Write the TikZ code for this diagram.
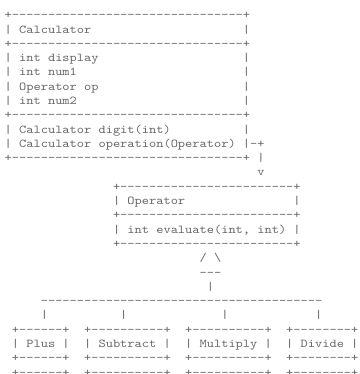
\documentclass[tikz,border=0pt]{standalone}
\usepackage{fontspec}
\usepackage{tikz}
\newfontfamily\asciifont{lmmono10-regular}[Extension=.otf, FakeStretch=1.146]
\newcommand{\asciitext}{\asciifont\fontsize{9pt}{10.7pt}\selectfont}
\newlength{\charw}
\AtBeginDocument{\settowidth{\charw}{\asciitext +}}

% box pieces, #1 = full width in characters
\newcommand{\brule}[1]{+\foreach\i in {3,...,#1}{-}+}
\newcommand{\brow}[2]{\makebox[\dimexpr\charw*\numexpr#1-1\relax\relax][l]{|\makebox[\charw]{}#2}|}
\newcommand{\dashrun}[1]{\foreach\i in {1,...,#1}{-}}

\begin{document}
\begin{tikzpicture}[
  x=\charw, y=-10.725pt,
  ascii/.style = {font=\asciitext, text=black!60, inner sep=0pt, anchor=base west},
]
\path[fill=white, use as bounding box] (-0.62,-1.31) rectangle (49.24,24.85);

%% Calculator
\foreach \r in {0,2,7,10}
  \node[ascii] (calc-rule\r) at (0,\r) {\brule{34}};
\foreach \r/\t in {1/Calculator, 3/int display, 4/int num1, 5/Operator op,
                   6/int num2, 8/Calculator digit(int),
                   9/Calculator operation(Operator)}
  \node[ascii] (calc-row\r) at (0,\r) {\brow{34}{\t}};

%% link down to Operator
\node[ascii] (link)      at (34,9)  {-+};
\node[ascii] (link-down) at (35,10) {|};
\node[ascii] (link-tip)  at (35,11) {v};

%% Operator
\foreach \r in {12,14,16}
  \node[ascii] (op-rule\r) at (15,\r) {\brule{26}};
\node[ascii] (op-name) at (15,13) {\brow{26}{Operator}};
\node[ascii] (op-eval) at (15,15) {\brow{26}{int evaluate(int, int)}};

%% inheritance triangle and bus
\node[ascii] (gen-head) at (27,17) {/ \textbackslash};
\node[ascii] (gen-base) at (27,18) {---};
\node[ascii] (gen-stem) at (28,19) {|};
\node[ascii] (gen-bus)  at (5,20)  {\dashrun{39}};
\foreach \c [count=\i] in {5,16,30,43}
  \node[ascii] (drop\i) at (\c,21) {|};

%% subclasses
\foreach \c/\w/\t in {1/8/Plus, 11/12/Subtract, 25/12/Multiply, 39/10/Divide}{
  \node[ascii] (\t-top)  at (\c,22) {\brule{\w}};
  \node[ascii] (\t)      at (\c,23) {\brow{\w}{\t}};
  \node[ascii] (\t-bot)  at (\c,24) {\brule{\w}};
  \node[ascii] (\t-next) at (\c,25) {\brule{\w}};
}
\end{tikzpicture}
\end{document}
